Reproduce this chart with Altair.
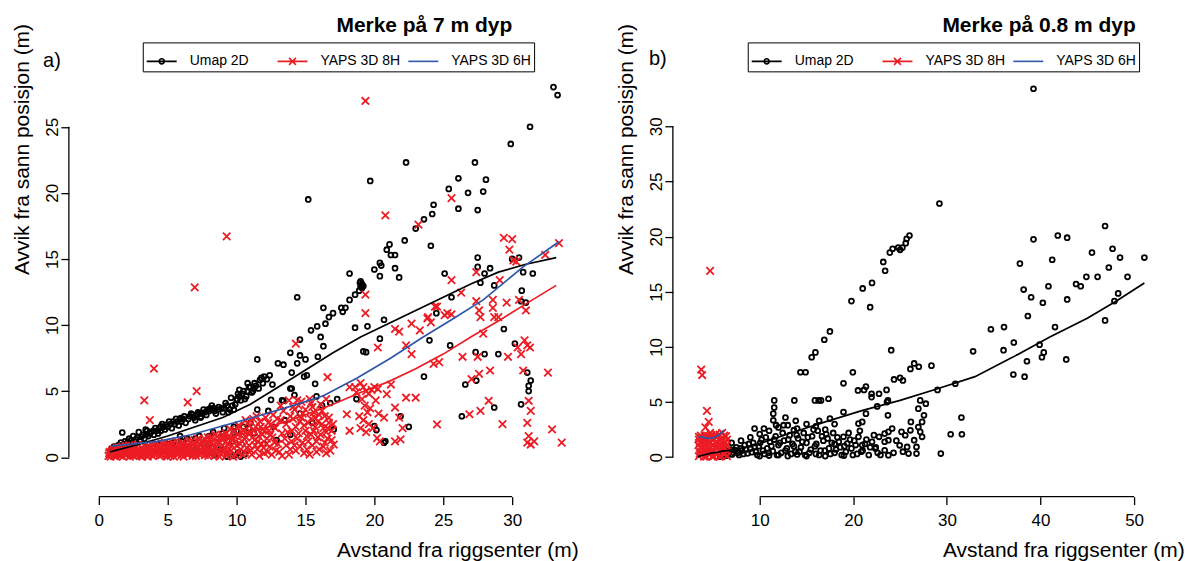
import altair as alt
import pandas as pd

FONT = "Liberation Sans"
BLACK = "#000000"
RED = "#EC1C24"
BLUE = "#2D56A8"

SERIES = ["Umap 2D", "YAPS 3D 8H", "YAPS 3D 6H"]
X_PATH = "M-1,-1L1,1M-1,1L1,-1"
LEG_PATHS = [
    "M-1,0L1,0M0.17,0A0.17,0.17,0,1,1,-0.17,0A0.17,0.17,0,1,1,0.17,0",
    "M-1,0L1,0M-0.23,-0.23L0.23,0.23M-0.23,0.23L0.23,-0.23",
    "M-1,0L1,0",
]

a_title = "Merke på 7 m dyp"
b_title = "Merke på 0.8 m dyp"
x_title = "Avstand fra riggsenter (m)"
y_title = "Avvik fra sann posisjon (m)"
a_xticks = [0, 5, 10, 15, 20, 25, 30]
a_yticks = [0, 5, 10, 15, 20, 25]
b_xticks = [10, 20, 30, 40, 50]
b_yticks = [0, 5, 10, 15, 20, 25, 30]

# ---------------- panel a : Umap 2D (circles) ----------------
a_umap_pts = [
    (33.0, 28.0), (33.3, 27.4), (31.3, 25.0), (29.9, 23.7), (22.3, 22.3), (27.3, 22.3),
    (19.7, 20.9), (26.1, 21.1), (28.1, 21.0), (25.4, 20.3), (26.8, 20.0), (27.9, 20.1),
    (15.2, 19.5), (26.1, 18.8), (27.5, 18.7), (24.3, 19.1), (24.2, 18.4), (23.6, 18.0),
    (23.0, 17.3), (22.2, 16.4), (24.1, 16.0), (21.1, 16.1), (20.9, 15.7), (21.2, 15.3),
    (21.5, 15.3), (20.4, 14.7), (20.5, 14.5), (20.0, 14.2), (21.5, 14.3), (21.8, 13.6),
    (20.4, 13.7), (18.2, 13.9), (19.0, 13.3), (19.1, 13.1), (19.2, 12.95), (19.1, 12.8),
    (18.95, 13.2), (27.5, 15.1), (27.5, 14.4), (28.4, 14.3), (28.0, 13.9), (27.7, 13.2),
    (28.7, 13.0), (30.5, 15.1), (30.0, 15.0), (30.8, 14.0), (31.5, 13.9), (30.7, 12.6),
    (31.0, 11.7), (25.1, 13.9), (25.6, 12.1), (24.5, 10.9), (20.7, 10.4), (14.4, 12.1),
    (18.2, 11.9), (16.3, 11.3), (16.7, 10.6), (17.0, 10.9), (17.6, 11.3), (17.7, 11.0),
    (17.9, 11.3), (18.6, 12.3), (18.9, 12.6), (19.0, 12.9),
    (11.5, 7.4), (11.7, 5.85), (12.0, 6.1), (12.6, 5.5), (13.0, 7.1), (13.4, 7.0),
    (13.9, 7.9), (14.0, 6.4), (14.4, 7.1), (14.9, 6.1), (14.6, 8.9), (15.4, 9.6),
    (15.85, 9.9), (16.1, 9.1), (16.3, 8.4), (16.45, 10.1), (19.2, 8.0), (18.6, 9.8),
    (19.5, 9.9), (19.4, 7.95), (20.4, 8.97), (24.0, 8.84), (25.5, 8.46), (23.6, 6.1),
    (26.6, 5.5), (27.4, 5.8), (28.0, 7.8), (27.35, 7.95), (28.7, 3.76), (26.35, 3.1),
    (29.0, 7.8), (29.4, 9.7), (30.2, 8.6), (30.65, 11.8), (31.35, 5.8), (31.1, 6.4),
    (31.2, 5.4), (31.2, 5.0), (30.65, 4.0), (20.7, 1.1), (22.5, 2.3), (21.9, 3.1),
    (17.3, 4.4), (18.7, 4.4), (20.0, 2.36), (20.15, 2.05), (20.8, 1.2), (17.05, 2.1),
    (14.6, 7.7), (15.0, 7.4), (15.9, 7.6), (15.7, 5.55), (15.1, 6.2), (14.0, 5.2),
    (13.4, 4.27), (12.3, 3.5), (10.9, 2.2), (9.8, 1.85), (5.9, 1.6), (7.9, 0.96),
    (7.06, 0.7), (10.1, 0.34),
    (12.5, 4.34), (13.3, 4.3), (13.9, 5.2), (11.5, 3.6), (9.8, 2.3), (10.5, 2.3),
    (11.25, 1.8), (12.7, 2.3), (13.9, 1.7), (10.05, 4.34), (10.2, 5.1), (10.8, 5.6),
    (11.25, 5.2), (9.1, 3.7), (9.8, 3.6), (8.35, 3.7), (7.4, 3.08), (6.7, 3.3),
    (5.9, 2.88), (4.5, 2.33), (3.4, 2.08), (1.7, 1.87),
    (0.8, 0.3), (0.9, 0.6), (1.0, 0.4), (1.1, 0.8), (1.2, 0.5), (1.4, 0.9), (1.5, 0.6),
    (1.6, 1.1), (1.8, 0.7), (1.9, 1.2), (2.0, 0.9), (2.2, 1.4), (2.3, 1.0), (2.5, 1.6),
    (2.6, 1.2), (2.8, 1.5), (2.9, 1.9), (3.0, 1.3), (3.2, 1.7), (3.3, 1.4), (3.5, 2.0),
    (3.6, 1.6), (3.8, 1.9), (4.0, 1.7), (4.1, 2.2), (4.3, 1.8), (4.5, 2.0), (4.6, 2.5),
    (4.8, 2.1), (5.0, 2.3), (5.1, 2.7), (5.3, 2.2), (5.5, 2.5), (5.6, 2.9), (5.8, 2.4),
    (6.0, 2.7), (6.2, 3.1), (6.3, 2.6), (6.5, 2.9), (6.8, 3.2), (7.0, 2.8), (7.2, 3.4),
    (7.4, 3.0), (7.6, 3.6), (7.8, 3.2), (8.0, 3.5), (8.2, 3.9), (8.5, 3.3), (8.7, 3.8),
    (9.0, 3.4), (9.2, 4.1), (9.5, 3.6), (9.6, 4.5), (9.9, 4.0), (10.1, 4.8), (10.3, 4.3),
    (10.5, 5.0), (10.7, 4.6), (10.9, 5.3), (11.1, 4.9), (11.3, 5.6), (11.6, 5.2), (11.8, 6.0),
    (1.3, 0.2), (2.4, 0.5), (3.4, 0.7), (4.4, 0.9), (5.4, 1.1), (6.4, 1.4), (7.3, 1.6),
    (8.3, 1.9), (9.1, 2.2), (9.7, 1.2), (8.8, 0.6), (9.3, 0.05), (9.8, 0.1), (10.3, 0.05),
    (10.6, 0.25), (8.4, 0.15), (12.0, 1.0), (12.9, 1.3), (13.5, 2.8), (14.6, 3.3),
    (15.5, 2.6), (16.2, 3.9), (15.8, 4.6), (14.2, 4.7), (16.8, 4.1),
    (1.05, 0.7), (1.35, 0.65), (1.65, 0.9), (1.95, 1.0), (2.1, 1.15), (2.35, 1.3),
    (2.7, 1.35), (3.1, 1.55), (3.45, 1.75), (3.7, 1.8), (3.95, 2.0), (4.2, 2.0),
    (4.4, 2.2), (4.7, 2.3), (4.9, 2.45), (5.2, 2.5), (5.4, 2.7), (5.7, 2.7),
    (5.95, 2.95), (6.1, 2.9), (6.6, 3.1), (6.9, 3.0), (7.1, 3.2), (7.3, 3.3), (7.5, 3.3),
    (7.7, 3.4), (7.9, 3.6), (8.1, 3.7), (8.4, 3.5), (8.6, 3.6), (8.9, 3.7), (9.3, 3.9),
    (9.4, 3.4), (9.7, 3.9), (10.0, 4.4), (10.2, 4.6), (10.4, 4.8), (10.6, 4.4),
    (10.8, 5.0), (11.0, 5.3), (11.2, 5.0), (11.4, 5.4), (11.9, 5.6), (12.2, 5.9),
    (12.4, 6.2), (2.0, 0.3), (3.0, 0.5), (4.0, 0.8), (5.0, 1.0), (6.0, 1.2), (7.0, 1.4),
    (8.0, 1.6), (9.0, 1.8), (10.0, 2.0), (11.0, 2.6),
]

# ---------------- panel a : YAPS 3D 8H (crosses) ----------------
a_y8_pts = [
    (19.35, 26.95), (9.28, 16.7), (6.96, 12.85), (20.8, 18.3), (23.2, 17.6), (25.6, 19.6),
    (29.4, 16.6), (30.0, 16.5), (29.8, 15.7), (30.1, 14.9), (30.3, 14.8), (33.4, 16.2),
    (32.4, 15.3), (27.4, 14.0), (25.6, 13.4), (26.3, 12.45), (29.1, 13.4), (24.4, 11.4),
    (27.4, 11.8), (27.6, 11.1), (27.7, 10.6), (28.6, 11.9), (28.6, 11.3), (29.6, 11.7),
    (30.5, 11.9), (31.0, 11.1), (25.3, 10.9), (25.6, 10.8), (23.9, 10.6), (19.35, 12.3),
    (19.35, 10.9), (29.0, 10.6),
    (3.3, 4.3), (4.0, 6.7), (3.7, 2.8), (6.45, 4.15), (7.1, 5.0), (16.6, 6.05), (14.3, 8.6),
    (20.25, 8.3), (21.5, 9.7), (21.8, 9.5), (22.7, 10.1), (23.3, 9.6), (23.85, 10.5),
    (24.1, 10.2), (24.55, 11.4), (25.1, 10.75), (22.3, 8.46), (22.7, 7.8), (24.3, 7.06),
    (24.7, 7.2), (26.4, 7.6), (27.05, 5.9), (27.6, 6.3), (28.4, 6.56), (27.5, 7.6),
    (27.9, 9.35), (28.7, 10.6), (30.4, 8.3), (29.7, 7.6), (30.65, 7.8), (30.8, 6.56),
    (30.9, 8.84), (31.1, 8.46), (31.3, 8.3), (31.2, 4.27), (31.35, 3.5), (31.1, 2.6),
    (31.2, 1.6), (31.1, 1.1), (31.35, 0.96), (31.6, 1.2), (32.9, 2.1), (32.6, 6.4),
    (33.6, 1.1), (29.3, 2.5), (27.7, 3.5), (26.9, 3.25), (28.3, 4.27), (24.55, 2.48),
    (22.3, 4.5), (23.0, 4.5), (21.5, 3.76), (21.8, 3.0), (22.05, 2.2), (21.9, 1.35),
    (21.5, 1.2), (20.7, 3.0), (20.4, 1.2), (20.9, 4.77), (21.2, 5.5), (20.25, 5.16),
    (19.0, 5.6), (19.2, 5.3), (19.4, 5.0), (19.6, 4.8), (19.8, 5.1), (20.0, 5.3), (19.1, 4.4),
    (19.3, 3.9), (19.5, 3.4), (19.2, 2.8), (19.6, 2.5), (19.9, 2.2), (18.9, 3.1), (19.7, 3.7),
    (20.1, 4.3), (18.7, 4.9), (18.6, 5.3), (20.3, 3.3), (19.4, 1.9), (19.0, 2.2),
    (18.2, 5.3), (18.0, 3.25), (18.2, 2.0), (17.05, 0.96), (17.0, 2.5), (20.2, 1.45),
    (13.0, 1.0), (13.3, 1.8), (13.6, 2.5), (13.9, 3.1), (14.2, 3.6), (14.0, 2.0), (14.4, 1.4),
    (14.6, 2.7), (14.8, 3.3), (15.0, 2.0), (15.2, 1.2), (15.4, 2.9), (15.5, 3.8), (15.7, 2.3),
    (15.9, 1.5), (16.0, 3.2), (16.2, 2.5), (16.3, 0.8), (16.5, 1.9), (16.7, 3.0), (16.9, 1.3),
    (15.1, 0.6), (14.3, 0.5), (13.6, 0.9), (12.8, 2.2), (12.6, 1.5), (14.7, 4.2), (15.3, 4.4),
    (13.8, 4.3), (14.9, 0.3), (15.8, 0.4), (16.1, 4.0), (16.6, 2.2), (12.3, 2.6), (14.1, 2.9),
    (15.6, 3.4), (16.4, 1.1), (13.4, 3.5), (14.5, 3.9),
    (13.1, 0.4), (13.2, 2.8), (13.3, 0.1), (13.5, 1.4), (13.7, 1.9), (13.8, 0.2), (14.0, 1.2),
    (14.1, 3.8), (14.2, 0.9), (14.3, 2.3), (14.5, 1.8), (14.6, 0.8), (14.7, 3.0), (14.8, 1.1),
    (14.9, 2.4), (15.0, 3.6), (15.1, 1.6), (15.2, 2.6), (15.3, 0.2), (15.4, 1.7), (15.5, 0.9),
    (15.6, 2.0), (15.7, 3.0), (15.8, 1.2), (15.9, 2.7), (16.0, 0.6), (16.1, 1.7), (16.2, 3.5),
    (16.3, 2.2), (16.4, 3.1), (16.5, 0.3), (16.6, 1.4), (16.7, 2.6), (16.8, 0.5), (16.9, 2.0),
    (13.9, 0.6), (14.4, 4.3), (15.4, 4.1), (13.2, 3.9), (16.5, 4.4),
    (0.7, 0.1), (0.8, 0.4), (0.9, 0.2), (1.0, 0.6), (1.1, 0.1), (1.2, 0.3), (1.3, 0.7),
    (1.4, 0.2), (1.5, 0.5), (1.6, 0.1), (1.7, 0.8), (1.8, 0.3), (1.9, 0.6), (2.0, 0.15),
    (2.1, 0.4), (2.2, 0.9), (2.3, 0.2), (2.4, 0.6), (2.5, 0.1), (2.6, 0.4), (2.7, 0.8),
    (2.8, 0.2), (2.9, 0.5), (3.0, 0.1), (3.1, 0.7), (3.2, 0.3), (3.3, 0.9), (3.4, 0.15),
    (3.5, 0.5), (3.6, 0.2), (3.7, 0.8), (3.8, 0.35), (3.9, 0.1), (4.0, 0.6), (4.1, 1.0),
    (4.2, 0.25), (4.3, 0.5), (4.4, 0.1), (4.5, 0.8), (4.6, 0.3), (4.7, 0.55), (4.8, 1.1),
    (4.9, 0.2), (5.0, 0.7), (5.1, 0.4), (5.2, 0.1), (5.3, 0.9), (5.4, 0.3), (5.5, 0.6),
    (5.6, 1.2), (5.7, 0.2), (5.8, 0.5), (5.9, 0.85), (6.0, 0.15), (6.1, 0.4), (6.2, 1.0),
    (6.3, 0.6), (6.4, 0.2), (6.5, 1.3), (6.6, 0.45), (6.7, 0.8), (6.8, 0.1), (6.9, 1.1),
    (7.0, 0.35), (7.1, 0.65), (7.2, 1.4), (7.3, 0.2), (7.4, 0.9), (7.5, 0.5), (7.6, 1.2),
    (7.7, 0.15), (7.8, 0.7), (7.9, 1.5), (8.0, 0.3), (8.1, 1.0), (8.2, 0.55), (8.3, 1.3),
    (8.4, 0.1), (8.5, 0.8), (8.6, 1.6), (8.7, 0.4), (8.8, 1.1), (8.9, 0.2), (9.0, 1.4),
    (9.1, 0.7), (9.2, 1.8), (9.3, 0.3), (9.4, 1.0), (9.5, 1.6), (9.6, 0.5), (9.7, 1.3),
    (9.8, 2.0), (9.9, 0.2), (10.0, 0.9), (10.1, 1.7), (10.2, 2.3), (10.3, 0.6), (10.4, 1.2),
    (10.5, 2.0), (10.6, 0.35), (10.7, 1.5), (10.8, 2.6), (10.9, 0.9), (11.0, 1.9), (11.1, 0.2),
    (11.2, 2.9), (11.3, 1.3), (11.4, 2.3), (11.5, 0.6), (11.6, 1.6), (11.7, 2.7), (11.8, 1.0),
    (11.9, 2.1), (12.0, 0.3), (12.1, 3.0), (12.2, 1.4), (12.4, 0.8), (12.5, 2.5),
    (0.75, 0.3), (0.85, 0.05), (0.95, 0.45), (1.05, 0.25), (1.15, 0.55), (1.25, 0.05),
    (1.35, 0.45), (1.45, 0.75), (1.55, 0.3), (1.65, 0.55), (1.75, 0.05), (1.85, 0.5),
    (1.95, 0.85), (2.05, 0.3), (2.15, 0.6), (2.25, 0.05), (2.35, 0.75), (2.45, 0.35),
    (2.55, 0.6), (2.65, 0.15), (2.75, 0.5), (2.85, 0.95), (2.95, 0.3), (3.05, 0.45),
    (3.15, 0.05), (3.25, 0.6), (3.35, 0.35), (3.45, 0.75), (3.55, 0.05), (3.65, 0.55),
    (3.75, 0.25), (3.85, 0.95), (3.95, 0.45), (4.05, 0.2), (4.15, 0.7), (4.25, 0.4),
    (4.35, 0.9), (4.45, 0.55), (4.55, 0.15), (4.65, 1.0), (4.75, 0.35), (4.85, 0.7),
    (4.95, 0.05), (5.05, 0.95), (5.15, 0.25), (5.25, 0.55), (5.35, 1.1), (5.45, 0.05),
    (5.55, 0.4), (5.65, 0.8), (5.75, 1.0), (5.85, 0.3), (5.95, 0.6), (6.05, 1.1),
    (6.15, 0.05), (6.25, 0.75), (6.35, 0.35), (6.45, 0.9), (6.55, 0.25), (6.65, 1.15),
    (6.75, 0.6), (6.85, 0.3), (6.95, 0.85), (7.05, 0.1), (7.15, 1.2), (7.25, 0.5),
    (7.35, 1.0), (7.45, 0.25), (7.55, 0.75), (7.65, 1.4), (7.75, 0.45), (7.85, 1.0),
    (7.95, 0.1), (8.05, 0.7), (8.15, 1.5), (8.25, 0.3), (8.35, 0.95), (8.45, 1.7),
    (8.55, 0.35), (8.65, 1.2), (8.75, 0.05), (8.85, 0.75), (8.95, 1.7), (9.05, 0.4),
    (9.15, 1.1), (9.25, 0.1), (9.35, 1.5), (9.45, 0.6), (9.55, 2.1), (9.65, 0.9),
    (9.75, 0.05), (9.85, 1.6), (9.95, 1.2), (10.05, 0.4), (10.15, 2.4), (10.25, 1.0),
    (10.35, 1.9), (10.45, 0.15), (10.55, 1.4), (10.65, 2.8), (10.75, 0.7), (10.85, 1.8),
    (10.95, 2.4), (11.05, 0.5), (11.15, 1.5), (11.25, 2.0), (11.35, 0.9), (11.45, 3.1),
    (11.55, 1.2), (11.65, 0.1), (11.75, 2.3), (11.85, 1.7), (11.95, 0.7), (12.05, 2.0),
    (12.15, 1.0), (12.25, 0.4), (12.35, 2.0), (12.45, 1.7), (12.55, 0.2), (12.65, 3.2),
    (12.75, 1.1), (12.85, 0.5), (12.95, 2.9),
]

a_umap_line = [(0.8, 0.4), (3, 1.0), (5, 1.6), (7, 2.3), (9, 3.0), (11, 4.0), (13, 5.3),
               (15, 6.6), (17, 7.9), (19, 9.1), (21, 10.1), (23, 11.1), (25, 12.1),
               (27, 13.1), (29, 14.0), (31, 14.6), (33.2, 15.1)]
a_y8_line = [(0.8, 0.25), (3, 0.45), (5, 0.7), (7, 1.0), (9, 1.4), (11, 1.9), (13, 2.5),
             (15, 3.2), (17, 4.0), (19, 4.9), (21, 5.7), (23, 6.7), (25, 7.8), (27, 9.1),
             (29, 10.3), (31, 11.6), (33.2, 13.0)]
a_y6_line = [(0.9, 0.85), (2, 0.95), (4.25, 1.2), (6.7, 1.7), (9.1, 2.4), (11.5, 3.1),
             (13.9, 3.85), (16.3, 4.65), (18.75, 6.0), (21.2, 7.5), (23.4, 9.0),
             (25.6, 10.4), (27.9, 11.9), (30.8, 14.4), (33.4, 16.3)]

# ---------------- panel b : Umap 2D (circles) ----------------
b_umap_pts = [
    (39.25, 33.4), (29.2, 23.0), (19.8, 14.15), (21.0, 15.3), (21.8, 13.6), (22.0, 15.8),
    (23.2, 17.7), (23.4, 16.9), (23.9, 18.55), (24.2, 18.9), (24.8, 19.0), (25.0, 18.8),
    (25.25, 19.0), (25.6, 19.4), (25.7, 19.8), (26.0, 20.1), (37.8, 17.55), (39.25, 19.75),
    (41.25, 17.9), (41.85, 20.1), (42.85, 19.9), (46.9, 20.96), (45.5, 18.55), (47.7, 18.9),
    (48.5, 18.1), (51.1, 18.1), (47.3, 17.2), (44.9, 16.35), (46.1, 16.35), (49.3, 16.35),
    (43.8, 15.7), (44.3, 15.5), (40.85, 15.5), (38.2, 15.2), (39.0, 14.5), (40.25, 14.0),
    (42.85, 14.3), (38.65, 12.8), (48.3, 14.85), (47.9, 14.15), (46.9, 12.4),
    (41.55, 11.8), (42.75, 8.86), (40.35, 9.5), (40.15, 9.06), (39.9, 10.2), (38.55, 8.7),
    (37.15, 10.4), (36.1, 11.8), (34.7, 11.6), (36.05, 9.7), (37.1, 7.5), (38.3, 7.3),
    (32.8, 9.6), (30.9, 6.66), (29.0, 6.1), (31.55, 3.6), (30.4, 2.08), (31.6, 2.08),
    (29.35, 0.33), (28.35, 8.3), (27.0, 8.2), (26.1, 8.0), (26.5, 8.5), (25.0, 7.2),
    (24.35, 7.05), (25.3, 6.96), (23.55, 6.1), (22.75, 5.75), (21.95, 5.75), (21.15, 6.1),
    (21.35, 6.4), (20.5, 6.05), (21.95, 5.45), (23.7, 5.15), (23.6, 5.0), (22.55, 4.6),
    (23.7, 3.8), (21.35, 3.95), (20.55, 3.05), (20.95, 3.2), (18.95, 6.7), (19.95, 7.7),
    (24.05, 9.7), (16.9, 10.65), (17.5, 11.4), (15.95, 9.5), (15.55, 9.06), (14.35, 7.7),
    (14.9, 7.7), (13.7, 5.15), (15.9, 5.15), (16.3, 5.15), (16.55, 5.15), (17.35, 5.3),
    (18.95, 4.1), (17.5, 3.5), (16.35, 3.3), (13.85, 3.3), (12.75, 3.6), (11.55, 4.5),
    (11.55, 5.15), (10.45, 2.6), (9.45, 2.6), (11.45, 3.95), (11.45, 3.35), (11.75, 2.9),
    (12.55, 2.9), (13.65, 2.45), (18.95, 1.85), (19.35, 1.24), (20.55, 1.85), (20.95, 1.1),
    (22.35, 0.79), (23.75, 1.54), (24.95, 1.08), (25.9, 0.33), (26.75, 0.33), (26.75, 0.93),
    (25.15, 2.3), (25.55, 1.99), (24.15, 2.6), (23.35, 2.14), (23.75, 2.3), (22.75, 1.85),
    (23.35, 1.4), (23.35, 0.63), (23.75, 0.18), (25.75, 0.93), (26.5, 1.54), (26.1, 2.44),
    (26.95, 2.74), (27.35, 3.2), (27.15, 2.3), (27.35, 1.85), (27.55, 3.8), (27.75, 4.85),
    (27.15, 5.15), (26.95, 4.4), (26.15, 3.2),
    (6.0, 0.2), (6.3, 0.5), (6.6, 0.3), (6.9, 0.7), (7.2, 0.4), (7.5, 0.9), (7.8, 0.2),
    (8.1, 0.6), (8.4, 1.1), (8.7, 0.35), (9.0, 0.8), (9.3, 1.3), (9.6, 0.5), (9.9, 1.0),
    (10.2, 1.6), (10.5, 0.3), (10.8, 0.8), (11.1, 1.4), (11.4, 0.55), (11.7, 1.9),
    (12.0, 1.1), (12.3, 0.4), (12.6, 1.5), (12.9, 0.8), (13.2, 2.0), (13.5, 1.2),
    (13.8, 0.5), (14.1, 1.7), (14.4, 0.9), (14.7, 2.2), (15.0, 1.3), (15.3, 0.4),
    (15.6, 1.9), (15.9, 1.0), (16.2, 2.4), (16.5, 0.6), (16.8, 1.5), (17.1, 2.1),
    (17.4, 0.8), (17.7, 1.3), (18.0, 0.4), (18.3, 1.8), (18.6, 0.9), (19.2, 0.5),
    (19.5, 2.2), (19.8, 0.8), (20.1, 1.5), (20.4, 0.3), (20.7, 2.4), (21.0, 0.6),
    (21.4, 1.6), (21.8, 0.9), (22.2, 2.0), (22.6, 0.4), (10.0, 0.1), (11.0, 0.15),
    (12.0, 0.2), (13.0, 0.1), (14.0, 0.25), (15.0, 0.1), (16.0, 0.3), (17.0, 0.1),
    (18.0, 1.2), (19.0, 0.15), (7.0, 1.3), (8.0, 1.5), (9.0, 1.8), (10.0, 2.1),
    (11.0, 2.4), (12.0, 2.7), (13.0, 2.9), (14.0, 2.6), (15.0, 3.0), (16.0, 2.8),
    (17.0, 2.5), (18.0, 3.0), (5.8, 0.05), (6.2, 0.9),
    (6.15, 0.35), (6.45, 0.15), (6.75, 0.55), (7.05, 0.25), (7.35, 0.65), (7.65, 0.4),
    (7.95, 0.8), (8.25, 0.3), (8.55, 0.7), (8.85, 1.2), (9.15, 0.45), (9.45, 0.95),
    (9.75, 0.2), (10.05, 1.3), (10.35, 0.6), (10.65, 1.8), (10.95, 0.4), (11.25, 1.0),
    (11.55, 1.6), (11.85, 0.2), (12.15, 1.3), (12.45, 2.2), (12.75, 0.6), (13.05, 1.6),
    (13.35, 0.3), (13.65, 1.0), (13.95, 2.0), (14.25, 0.5), (14.55, 1.4), (14.85, 0.2),
    (15.15, 1.8), (15.45, 0.7), (15.75, 2.5), (16.05, 1.2), (16.35, 0.2), (16.65, 1.9),
    (16.95, 0.6), (17.25, 1.7), (17.55, 0.3), (17.85, 2.2), (18.15, 0.7), (18.45, 1.4),
    (18.75, 0.2), (19.05, 1.0), (19.65, 1.6), (19.95, 0.2), (20.25, 1.1), (20.85, 0.5),
    (21.25, 1.2), (21.65, 0.2), (22.0, 1.4), (22.4, 0.9), (22.9, 0.2), (24.3, 0.4),
    (24.6, 1.5), (25.3, 0.5),
]

# ---------------- panel b : YAPS 3D 8H (crosses) ----------------
b_y8_pts = [
    (4.7, 16.9), (3.75, 7.95), (3.85, 7.45), (4.36, 4.2), (4.55, 3.2), (4.2, 2.7), (4.7, 2.2),
    (3.5, 0.1), (3.55, 0.6), (3.45, 1.1), (3.5, 1.6), (3.9, 0.3), (3.85, 0.85), (3.95, 1.3),
    (3.9, 1.8), (4.3, 0.05), (4.25, 0.6), (4.35, 1.15), (4.3, 1.6), (4.7, 0.3), (4.65, 0.8),
    (4.75, 1.35), (4.7, 1.8), (5.1, 0.1), (5.15, 0.6), (5.05, 1.1), (5.1, 1.65), (5.5, 0.3),
    (5.45, 0.85), (5.55, 1.3), (5.5, 1.9), (5.9, 0.1), (5.95, 0.6), (5.85, 1.1), (5.9, 1.7),
    (6.3, 0.3), (6.25, 0.8), (6.35, 1.3), (6.4, 1.9), (6.5, 0.1), (4.1, 2.0), (5.3, 2.1),
    (6.0, 2.2), (3.7, 1.95),
    (3.6, 0.35), (3.65, 0.85), (3.6, 1.35), (3.65, 1.75), (4.05, 0.05), (4.0, 0.55),
    (4.1, 1.05), (4.05, 1.55), (4.45, 0.35), (4.5, 0.85), (4.45, 1.35), (4.5, 1.9),
    (4.9, 0.05), (4.85, 0.55), (4.95, 1.05), (4.9, 1.55), (5.3, 0.35), (5.25, 0.9),
    (5.35, 1.4), (5.3, 1.85), (5.7, 0.05), (5.75, 0.55), (5.65, 1.05), (5.7, 1.5),
    (6.1, 0.35), (6.15, 0.95), (6.05, 1.45), (6.2, 1.95), (6.45, 0.55), (6.45, 1.1),
    (6.5, 1.6), (3.5, 1.85), (4.8, 2.0), (5.7, 2.05),
]

b_umap_line = [(3.4, 0.05), (4.0, 0.2), (4.5, 0.3), (5.0, 0.4), (5.5, 0.45), (6.0, 0.55),
               (6.5, 0.6), (9.0, 0.95), (13.0, 2.1), (17.0, 3.2), (21.0, 4.25), (25.0, 5.15),
               (29.0, 6.2), (33.0, 7.3), (37.0, 9.05), (41.0, 10.9), (45.0, 12.6),
               (48.2, 14.2), (51.1, 15.8)]
b_y8_line = [(3.4, 0.4), (4.5, 0.55), (5.5, 0.7), (6.4, 0.85)]
b_y6_line = [(3.45, 1.85), (4.0, 1.8), (4.5, 1.7), (5.0, 1.75), (5.5, 1.95), (6.2, 2.45)]


def df(pts):
    return pd.DataFrame(pts, columns=["x", "y"])


def panel(tag, title, umap_pts, y8_pts, umap_line, y8_line, y6_line,
          xdom, ydom, w, h, xticks, yticks, title_x, tag_xy, leg_xy):
    xs = alt.Scale(domain=xdom, nice=False, zero=False)
    ys = alt.Scale(domain=ydom, nice=False, zero=False)
    xax = alt.Axis(values=xticks, domain=False, grid=False, ticks=True, tickSize=8,
                   tickWidth=1.3, tickColor=BLACK, labelFont=FONT, labelFontSize=17,
                   labelColor=BLACK, labelPadding=8, labelFlush=False, labelOverlap=False,
                   title=x_title, titleFont=FONT, titleFontSize=21, titleFontWeight="normal",
                   titleColor=BLACK, titleAnchor="start", titleAlign="left",
                   titleBaseline="alphabetic", titleX=title_x, titleY=60)
    yax = alt.Axis(values=yticks, domain=False, grid=False, ticks=True, tickSize=8,
                   tickWidth=1.3, tickColor=BLACK, labelFont=FONT, labelFontSize=17,
                   labelColor=BLACK, labelPadding=3, labelAngle=270, labelAlign="center",
                   labelBaseline="alphabetic", labelFlush=False, labelOverlap=False,
                   title=y_title, titleFont=FONT, titleFontSize=21, titleFontWeight="normal",
                   titleColor=BLACK, titleAngle=270, titleAlign="right",
                   titleBaseline="alphabetic", titleX=-40, titleY=13)
    X = alt.X("x:Q", scale=xs, axis=xax)
    Y = alt.Y("y:Q", scale=ys, axis=yax)

    xrule = alt.Chart(pd.DataFrame({"x": [xticks[0]], "x2": [xticks[-1]]})).mark_rule(
        color=BLACK, strokeWidth=1.3).encode(x=X, x2="x2:Q", y=alt.value(h))
    yrule = alt.Chart(pd.DataFrame({"y": [yticks[0]], "y2": [yticks[-1]]})).mark_rule(
        color=BLACK, strokeWidth=1.3).encode(y=Y, y2="y2:Q", x=alt.value(0))

    circles = alt.Chart(df(umap_pts)).mark_point(
        shape="circle", filled=False, size=24, strokeWidth=1.8, color=BLACK, opacity=1
    ).encode(x=X, y=Y)
    crosses = alt.Chart(df(y8_pts)).mark_point(
        shape=X_PATH, filled=False, size=56, strokeWidth=1.8, color=RED, opacity=1
    ).encode(x=X, y=Y)

    l_umap = alt.Chart(df(umap_line)).mark_line(color=BLACK, strokeWidth=1.7).encode(x=X, y=Y)
    l_y8 = alt.Chart(df(y8_line)).mark_line(color=RED, strokeWidth=1.7).encode(x=X, y=Y)
    l_y6 = alt.Chart(df(y6_line)).mark_line(color=BLUE, strokeWidth=1.7).encode(x=X, y=Y)

    leg = alt.Legend(title=None, orient="none", legendX=leg_xy[0], legendY=leg_xy[1],
                     direction="horizontal", gridAlign="all", symbolSize=900,
                     symbolStrokeWidth=1.6, symbolOpacity=1, labelFont=FONT,
                     labelFontSize=14, labelColor=BLACK, labelOffset=12, labelLimit=300,
                     columnPadding=4, padding=3, strokeColor=BLACK, fillColor="white")
    leg_df = pd.DataFrame({"series": SERIES, "x": [None] * 3, "y": [None] * 3})
    legend_layer = alt.Chart(leg_df).mark_point(filled=False, strokeWidth=1.6, size=900).encode(
        x=X, y=Y,
        color=alt.Color("series:N", scale=alt.Scale(domain=SERIES, range=[BLACK, RED, BLUE]),
                        legend=leg),
        shape=alt.Shape("series:N", scale=alt.Scale(domain=SERIES, range=LEG_PATHS),
                        legend=leg),
    )

    ttl = alt.Chart(pd.DataFrame({"t": [title]})).mark_text(
        font=FONT, fontSize=21, fontWeight="bold", align="left", baseline="alphabetic",
        color=BLACK).encode(x=alt.value(title_x), y=alt.value(22), text="t:N")
    tg = alt.Chart(pd.DataFrame({"t": [tag]})).mark_text(
        font=FONT, fontSize=20, align="center", baseline="middle", color=BLACK
    ).encode(x=alt.value(tag_xy[0]), y=alt.value(tag_xy[1]), text="t:N")

    return alt.layer(xrule, yrule, circles, crosses, l_umap, l_y8, l_y6, legend_layer,
                     ttl, tg).properties(width=w, height=h)


pa = panel("a)", a_title, a_umap_pts, a_y8_pts, a_umap_line, a_y8_line, a_y6_line,
           xdom=[-2.174, 34.928], ydom=[-2.983, 33.80], w=512, h=487,
           xticks=a_xticks, yticks=a_yticks, title_x=268, tag_xy=(-17, 51), leg_xy=(74, 32))
pb = panel("b)", b_title, b_umap_pts, b_y8_pts, b_umap_line, b_y8_line, b_y6_line,
           xdom=[0.72, 53.2], ydom=[-3.575, 40.5], w=492, h=487,
           xticks=b_xticks, yticks=b_yticks, title_x=270, tag_xy=(-15, 49), leg_xy=(75, 32))

chart = alt.hconcat(pa, pb, spacing=93, bounds="flush").resolve_scale(
    x="independent", y="independent", color="independent", shape="independent"
).resolve_legend(color="independent", shape="independent").properties(
    padding={"left": 12, "top": 10, "right": 0, "bottom": 0}, background="white"
).configure(font=FONT).configure_view(stroke=None, strokeWidth=0)

chart.save("out.html", embed_options={"renderer": "svg", "actions": False})
